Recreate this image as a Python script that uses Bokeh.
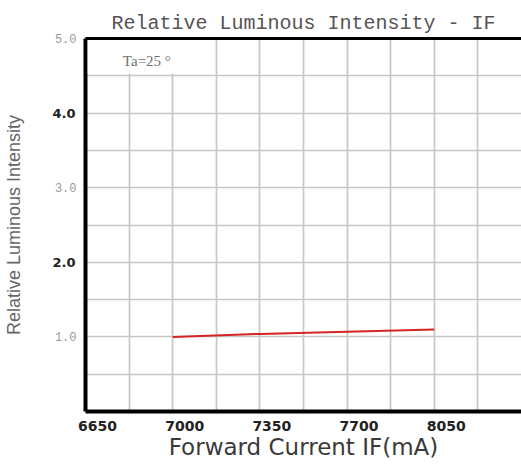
from bokeh.plotting import figure
from bokeh.models import FixedTicker, LinearAxis, Label, Range1d
from bokeh.embed import file_html
from bokeh.resources import INLINE

# ---- data ----
current_ma = [7000, 7350, 7700, 8050]
rel_intensity = [1.00, 1.04, 1.07, 1.10]

x_tick_values = [6650, 7000, 7350, 7700, 8050]
x_tick_labels = ["6650", "7000", "7350", "7700", "8050"]
y_bold_ticks = [2, 4]
y_bold_labels = ["2.0", "4.0"]
y_light_ticks = [1, 3, 5]
y_light_labels = ["1.0", "3.0", "5.0"]
x_grid_lines = [6825, 7000, 7175, 7350, 7525, 7700, 7875, 8050, 8225, 8400]
y_grid_lines = [0.5, 1.0, 1.5, 2.0, 2.5, 3.0, 3.5, 4.0, 4.5]

title_text = "Relative Luminous Intensity - IF"
x_title = "Forward Current IF(mA)"
y_title = "Relative Luminous Intensity"
note_text = "Ta=25 °"

# ---- figure ----
p = figure(width=521, height=468, x_range=Range1d(6650, 8400), y_range=Range1d(0, 5),
           output_backend="svg", toolbar_location=None,
           min_border_left=85, min_border_right=0, min_border_top=38, min_border_bottom=57)
p.outline_line_color = None
p.background_fill_color = "white"
p.border_fill_color = "white"

p.title.text = title_text
p.title.align = "center"
p.title.text_font = "Liberation Mono"
p.title.text_font_size = "20px"
p.title.text_font_style = "normal"
p.title.text_color = "#555555"
p.title.standoff = 8

# x axis: labels drawn slightly right of their grid line, as in the source
label_offset = 48
xa = p.xaxis[0]
xa.ticker = FixedTicker(ticks=[v + label_offset for v in x_tick_values])
xa.major_label_overrides = {v + label_offset: s for v, s in zip(x_tick_values, x_tick_labels)}
xa.major_tick_line_color = None
xa.minor_tick_line_color = None
xa.major_tick_out = 0
xa.major_tick_in = 0
xa.axis_line_width = 4
xa.axis_line_color = "black"
xa.major_label_text_font = "DejaVu Sans"
xa.major_label_text_font_style = "bold"
xa.major_label_text_font_size = "14px"
xa.major_label_text_color = "#222222"
xa.major_label_standoff = 9
xa.axis_label = x_title
xa.axis_label_text_font = "DejaVu Sans"
xa.axis_label_text_font_style = "normal"
xa.axis_label_text_font_size = "23px"
xa.axis_label_text_color = "#3a3a3a"
xa.axis_label_standoff = 0

# inner left axis: light labels 1.0 / 3.0 / 5.0
ya = p.yaxis[0]
ya.ticker = FixedTicker(ticks=y_light_ticks)
ya.major_label_overrides = {v: s for v, s in zip(y_light_ticks, y_light_labels)}
ya.major_tick_line_color = None
ya.minor_tick_line_color = None
ya.major_tick_out = 0
ya.major_tick_in = 0
ya.axis_line_width = 4
ya.axis_line_color = "black"
ya.major_label_text_font = "Liberation Mono"
ya.major_label_text_font_size = "12px"
ya.major_label_text_color = "#9a9a9a"
ya.major_label_standoff = 9

# outer left axis: bold labels 2.0 / 4.0 pulled back over the inner axis
yb = LinearAxis(ticker=FixedTicker(ticks=y_bold_ticks),
                major_label_overrides={v: s for v, s in zip(y_bold_ticks, y_bold_labels)},
                axis_line_color=None, major_tick_line_color=None, minor_tick_line_color=None,
                major_tick_out=0, major_tick_in=0,
                major_label_text_font="DejaVu Sans", major_label_text_font_style="bold",
                major_label_text_font_size="13px", major_label_text_color="#222222",
                major_label_standoff=-24,
                axis_label=y_title, axis_label_text_font="Liberation Sans",
                axis_label_text_font_style="normal", axis_label_text_font_size="18px",
                axis_label_text_color="#666666", axis_label_standoff=25)
p.add_layout(yb, "left")

top = LinearAxis(ticker=FixedTicker(ticks=[]), axis_line_width=3, axis_line_color="black",
                 major_label_text_font_size="0px", major_tick_line_color=None,
                 minor_tick_line_color=None, major_tick_out=0, major_tick_in=0)
p.add_layout(top, "above")

p.xgrid.ticker = FixedTicker(ticks=x_grid_lines)
p.ygrid.ticker = FixedTicker(ticks=y_grid_lines)
for g in (p.xgrid[0], p.ygrid[0]):
    g.grid_line_color = "#c6c6c6"
    g.grid_line_width = 1.7
    g.level = "underlay"

# white legend box in the top-left cell row (hides the grid there)
box = p.quad(left=[6659], right=[7160], bottom=[4.53], top=[4.98], fill_color="white", line_color=None)
box.level = "annotation"

p.line(current_ma, rel_intensity, line_color="#d42424", line_width=2)

p.add_layout(Label(x=6800, y=4.70, text=note_text, text_align="left", text_baseline="middle",
                   text_font="Liberation Serif", text_font_size="15px", text_color="#707070",
                   level="overlay"))

open("out.html", "w").write(file_html(p, INLINE))
